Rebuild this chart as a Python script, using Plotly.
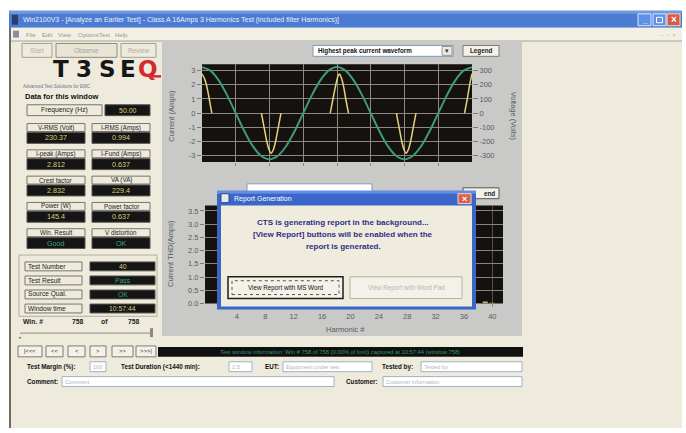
import plotly.graph_objects as go

W, H = 686, 433
FONT = "Liberation Sans"

# ---------------- data ----------------
time_ms = [0, 1.25, 2.5, 3.75, 5, 6.25, 7.5, 8.75, 10, 11.25, 12.5, 13.75, 15, 16.25, 17.5, 18.75,
           20, 21.25, 22.5, 23.75, 25, 26.25, 27.5, 28.75, 30, 31.25, 32.5, 33.75, 35, 36.25, 37.5, 38.75, 40]
voltage_v = [325, 300, 230, 124, 0, -124, -230, -300, -325, -300, -230, -124, 0, 124, 230, 300,
             325, 300, 230, 124, 0, -124, -230, -300, -325, -300, -230, -124, 0, 124, 230, 300, 325]

current_t = [0, 0.4, 0.8, 1.15, 1.45, None,
             8.8, 9.2, 9.6, 9.95, 10.25, 10.55, 10.9, 11.3, 11.7, None,
             19.0, 19.4, 19.8, 20.1, 20.35, 20.6, 20.95, 21.3, 21.7, None,
             28.8, 29.2, 29.6, 29.95, 30.25, 30.55, 30.9, 31.3, 31.7, None,
             38.9, 39.3, 39.65, 40]
current_a = [2.78, 2.4, 1.7, 0.8, 0, None,
             0, -1.0, -2.0, -2.6, -2.83, -2.6, -2.0, -1.0, 0, None,
             0, 1.0, 1.95, 2.55, 2.76, 2.55, 1.95, 1.0, 0, None,
             0, -1.0, -2.0, -2.6, -2.83, -2.6, -2.0, -1.0, 0, None,
             0, 1.0, 2.0, 2.78]

harmonic_n = [2, 3, 4, 5, 6, 7, 8, 9, 10, 11, 12, 13, 14, 15, 16, 17, 18, 19, 20, 21,
              22, 23, 24, 25, 26, 27, 28, 29, 30, 31, 32, 33, 34, 35, 36, 37, 38, 39, 40]
harmonic_a = [0.00, 0.62, 0.00, 0.55, 0.00, 0.45, 0.00, 0.34, 0.00, 0.24, 0.00, 0.15, 0.00, 0.10,
              0.00, 0.08, 0.00, 0.07, 0.00, 0.06, 0.00, 0.05, 0.00, 0.05, 0.00, 0.04, 0.00, 0.04,
              0.00, 0.04, 0.00, 0.03, 0.00, 0.03, 0.00, 0.03, 0.02, 0.07, 0.03]

current_ticks = [-3, -2, -1, 0, 1, 2, 3]
current_text = ["-3", "-2", "-1", "0", "1", "2", "3"]
voltage_ticks = [-300, -200, -100, 0, 100, 200, 300]
voltage_text = ["-300", "-200", "-100", "0", "100", "200", "300"]
time_grid = [5, 10, 15, 20, 25, 30, 35]
harm_ticks = [4, 8, 12, 16, 20, 24, 28, 32, 36, 40]
thd_ticks = [0, 0.5, 1.0, 1.5, 2.0, 2.5, 3.0, 3.5]
thd_text = ["0.0", "0.5", "1.0", "1.5", "2.0", "2.5", "3.0", "3.5"]

meas_left_labels = ["V-RMS (Volt)", "I-peak (Amps)", "Crest factor", "Power (W)", "Win. Result"]
meas_left_values = ["230.37", "2.812", "2.832", "145.4", "Good"]
meas_right_labels = ["I-RMS (Amps)", "I-Fund (Amps)", "VA (VA)", "Power factor", "V distortion"]
meas_right_values = ["0.994", "0.637", "229.4", "0.637", "OK"]
test_labels = ["Test Number", "Test Result", "Source Qual.", "Window time"]
test_values = ["40", "Pass", "OK", "10:57:44"]

# ---------------- colours ----------------
CREAM = "#EEEADC"
GREY = "#C9C9C7"
PLOTBG = "#15110E"
GRID = "#8E8980"
YEL = "#D8CF78"
GRN = "#3AA37B"
TICK = "#5C5C5C"

shapes = []
annotations = []


def X(x):
    return x / W


def Y(y):
    return 1 - y / H


def rect(x0, y0, x1, y1, fill, line=None, lw=1, layer="below", dash=None):
    ln = dict(color=line if line else "rgba(0,0,0,0)", width=lw if line else 0)
    if dash:
        ln["dash"] = dash
    shapes.append(dict(type="rect", xref="paper", yref="paper", x0=X(x0), x1=X(x1),
                       y0=Y(y1), y1=Y(y0), fillcolor=fill, line=ln, layer=layer))


def line(x0, y0, x1, y1, color, lw=1, layer="below"):
    shapes.append(dict(type="line", xref="paper", yref="paper", x0=X(x0), x1=X(x1),
                       y0=Y(y0), y1=Y(y1), line=dict(color=color, width=lw), layer=layer))


def txt(x, y, s, size=7, color="#222", anchor="center", bold=False, angle=0, family=FONT):
    if bold:
        s = "<b>" + s + "</b>"
    annotations.append(dict(xref="paper", yref="paper", x=X(x), y=Y(y), text=s, showarrow=False,
                            xanchor=anchor, yanchor="middle", textangle=angle, borderpad=0,
                            font=dict(size=size, color=color, family=family)))


def button(x0, y0, x1, y1, label, size=6.5, color="#222", bold=False, layer="below"):
    rect(x0, y0, x1, y1, "#F3F1E8", line="#7E7B72", lw=1, layer=layer)
    txt((x0 + x1) / 2, (y0 + y1) / 2, label, size=size, color=color, bold=bold)


# ---------------- window chrome ----------------
rect(9, 11, 682, 433, CREAM)
rect(9, 11, 11, 433, "#6F6C66")
rect(9, 11, 682, 28, "#4B7CD2")
rect(9, 11, 682, 14, "#6E9AE2")
rect(12, 15, 18, 25, "#2B3E6E")
txt(22, 20, "Win2100V3 - [Analyze an Earlier Test] - Class A 16Amps 3 Harmonics Test (included filter Harmonics)]",
    size=7, color="#E8EFFB", anchor="left")
rect(638, 14, 651, 26, "#5F8FE6", line="#DDE7F7")
txt(644.5, 21, "_", size=8, color="white", bold=True)
rect(653, 14, 666, 26, "#5F8FE6", line="#DDE7F7")
rect(656.5, 17.5, 662.5, 23, "rgba(0,0,0,0)", line="white", lw=1)
rect(667, 14, 680, 26, "#D65A44", line="#F3D9D0")
txt(673.5, 20, "×", size=10, color="white", bold=True)

# menu bar
rect(11, 28, 682, 41, "#F2EFE4")
line(11, 41.5, 682, 41.5, "#A9A596")
rect(13, 31, 19, 38, "#8A8F9C")
for mx, mt in zip([25, 41, 57, 77, 98, 114], ["File", "Edit", "View", "Options", "Test", "Help"]):
    txt(mx, 35, mt, size=6, color="#9A978F", anchor="left")
txt(668, 35, "–  ▫  ×", size=6, color="#BDBAB0")

# tabs
rect(22, 44, 52, 58, CREAM, line="#A4A196")
txt(37, 51, "Start", size=6.5, color="#B0ADA4")
rect(56, 44, 117, 58, "#E9E5D6", line="#8F8C82")
txt(86.5, 51, "Observe", size=6.5, color="#A5A298")
rect(121, 44, 156, 58, CREAM, line="#A4A196")
txt(138.5, 51, "Review", size=6.5, color="#B0ADA4")

# grey graph panel
rect(162, 42, 522, 340, GREY)

# top chart controls
rect(313, 46, 453, 57, "white", line="#7F9DB9")
rect(442, 47, 452, 56, "#ECEAE0", line="#9A988E")
txt(447, 51.5, "▾", size=7, color="#333")
txt(317, 51.5, "Highest peak current waveform", size=6.3, color="#111", anchor="left", bold=True)
button(463, 46, 499, 57, "Legend", size=6.3, bold=True)

# plot backgrounds
rect(202, 65, 472, 164, PLOTBG)
rect(205, 208, 503, 307, PLOTBG)

# axis titles
txt(172, 117, "Current (Amps)", size=7.5, color=TICK, angle=-90)
txt(513, 117, "Voltage (Volts)", size=7.5, color=TICK, angle=90)
txt(170, 257, "Current THD(Amps)", size=7.5, color=TICK, angle=-90)
txt(345, 333, "Harmonic #", size=7.5, color=TICK)

# ---------------- left panel ----------------
logo_x = [61, 84, 107, 128, 148]
for lx, ch in zip(logo_x, ["T", "3", "S", "E", "Q"]):
    txt(lx, 69.5, ch, size=23, color="#D42A2E" if ch == "Q" else "#161616", bold=True, family="DejaVu Sans")
rect(152, 76, 161, 78.5, "#D42A2E")
txt(22, 88, "Advanced Test Solutions for EMC", size=4.5, color="#6A7090", anchor="left")
txt(24, 97.5, "Data for this window", size=7.5, color="#111", anchor="left", bold=True)

rect(27, 106, 102, 117, CREAM, line="#77756C")
txt(64.5, 111.5, "Frequency (Hz)", size=6.8, color="#222")
rect(105, 106, 150, 117, "#151515", line="#55534E")
txt(127.5, 111.5, "50.00", size=7, color=YEL)

for i in range(5):
    ly = 125 + 26.6 * i
    for (x0, x1, labs, vals) in [(27, 85, meas_left_labels, meas_left_values),
                                 (92, 150, meas_right_labels, meas_right_values)]:
        rect(x0, ly, x1, ly + 8, CREAM, line="#77756C")
        txt((x0 + x1) / 2, ly + 4, labs[i], size=6.3, color="#222")
        rect(x0, ly + 9, x1, ly + 20, "#151515", line="#55534E")
        v = vals[i]
        txt((x0 + x1) / 2, ly + 14.5, v, size=7.2, color=GRN if v in ("Good", "OK", "Pass") else YEL)

rect(19, 258, 157, 320, "rgba(0,0,0,0)", line="#B3B0A4")
for i in range(4):
    ty = 265 + 14.2 * i
    rect(25, ty, 82, ty + 9, CREAM, line="#77756C")
    txt(26.5, ty + 4.5, test_labels[i], size=6.6, color="#222", anchor="left")
    rect(90, ty, 155, ty + 9, "#151515", line="#55534E")
    v = test_values[i]
    txt(122.5, ty + 4.5, v, size=6.8, color=GRN if v in ("Good", "OK", "Pass") else YEL)

txt(22, 325, "Win. #", size=6.8, color="#222", anchor="left", bold=True)
txt(78, 325, "758", size=6.8, color="#222", bold=True)
txt(104, 325, "of", size=6.8, color="#222", bold=True)
txt(134, 325, "758", size=6.8, color="#222", bold=True)
line(20, 337, 152, 337, "#8E8B80", lw=1)
rect(150, 332, 153, 341, "#8A877D")
txt(20, 341, "▸", size=5, color="#777")

for (bx0, bx1, bl) in [(18, 42, "|&lt;&lt;&lt;"), (46, 63, "&lt;&lt;"), (68, 85, "&lt;"),
                       (90, 106, "&gt;"), (112, 133, "&gt;&gt;"), (136, 156, "&gt;&gt;&gt;|")]:
    button(bx0, 350, bx1, 361, bl, size=5.8)

# status bar
rect(158, 351, 523, 361, "#101010")
txt(340, 356, "Test window information: Win # 758 of 758 (0.00% of limit) captured at 10:57:44 (window 758)",
    size=5.8, color="#2F9A6C")

# bottom form
def field(x0, x1, y, s):
    rect(x0, y - 5, x1, y + 5, "white", line="#9FB2C6")
    txt(x0 + 2, y, s, size=5.6, color="#B5B5B5", anchor="left")

txt(26, 371, "Test Margin (%):", size=6.3, color="#111", anchor="left", bold=True)
field(90, 106, 371, "100")
txt(120, 371, "Test Duration (&lt;1440 min):", size=6.3, color="#111", anchor="left", bold=True)
field(229, 252, 371, "2.5")
txt(264, 371, "EUT:", size=6.3, color="#111", anchor="left", bold=True)
field(283, 372, 371, "Equipment under test")
txt(381, 371, "Tested by:", size=6.3, color="#111", anchor="left", bold=True)
field(421, 522, 371, "Tested by")
txt(26, 386, "Comment:", size=6.3, color="#111", anchor="left", bold=True)
field(62, 334, 386, "Comment")
txt(345, 386, "Customer:", size=6.3, color="#111", anchor="left", bold=True)
field(383, 522, 386, "Customer information")

# bottom chart controls (partly hidden by dialog)
rect(247, 186, 372, 199, "white", line="#7F9DB9", layer="above")
rect(463, 190, 499, 201, "#F3F1E8", line="#555", layer="above")
txt(496, 195.5, "end", size=6.3, color="#222", anchor="right", bold=True)

# ---------------- dialog ----------------
rect(217, 193, 476, 313, "#3A66C9", layer="above")
rect(217, 193, 476, 196, "#628DE2", layer="above")
rect(221, 208, 472, 310, "#EFEBDD", layer="above")
rect(221, 196, 229, 205, "#E9E9E9", line="#2A4A8A", layer="above")
txt(233, 201, "Report Generation", size=7, color="white", anchor="left")
rect(458, 196, 471, 206, "#D8614A", line="#F4D8CF", layer="above")
txt(464.5, 201, "×", size=9, color="white", bold=True)
txt(343, 225, "CTS is generating report in the background...", size=8, color="#2E2F86", bold=True)
txt(343, 237, "[View Report] buttons will be enabled when the", size=8, color="#2E2F86", bold=True)
txt(343, 249, "report is generated.", size=8, color="#2E2F86", bold=True)
rect(228, 280, 343, 302, "#F3F1E8", line="#1E1E1E", lw=1.5, layer="above")
rect(232, 284, 339, 298, "rgba(0,0,0,0)", line="#555", lw=1, dash="dot", layer="above")
txt(285.5, 291, "View Report with MS Word", size=6.3, color="#111")
rect(350, 280, 462, 302, "#F3F1E8", line="#B5B1A5", layer="above")
txt(406, 291, "View Report with Word Pad", size=6.3, color="#BAB6AA")

# ---------------- traces ----------------
fig = go.Figure()
fig.add_trace(go.Scatter(x=time_ms, y=voltage_v, xaxis="x", yaxis="y2", mode="lines",
                         line=dict(color="#3E9A78", width=2, shape="spline"), hoverinfo="skip"))
fig.add_trace(go.Scatter(x=current_t, y=current_a, xaxis="x", yaxis="y", mode="lines",
                         line=dict(color="#E6D27C", width=1.5, shape="spline", smoothing=0.6),
                         connectgaps=False, hoverinfo="skip"))
fig.add_trace(go.Bar(x=harmonic_n, y=harmonic_a, xaxis="x3", yaxis="y3", width=0.7,
                     marker=dict(color="#CDB95E", line=dict(width=0)), hoverinfo="skip"))

tickfont = dict(size=7.5, color=TICK, family=FONT)
fig.update_layout(
    width=W, height=H, autosize=False,
    margin=dict(l=0, r=0, t=0, b=0, pad=0),
    paper_bgcolor="white", plot_bgcolor=PLOTBG,
    showlegend=False, bargap=0.3,
    shapes=shapes, annotations=annotations,
    xaxis=dict(domain=[X(202), X(472)], range=[0, 40], tickvals=time_grid, showticklabels=False,
               showgrid=True, gridcolor=GRID, gridwidth=1, zeroline=False, showline=False,
               ticks="outside", ticklen=3, tickcolor="#8A8A8A", anchor="y", fixedrange=True),
    yaxis=dict(domain=[Y(164), Y(65)], range=[-3.45, 3.45], tickvals=current_ticks,
               ticktext=current_text,
               showgrid=True, gridcolor=GRID, gridwidth=1, zeroline=False, showline=False,
               ticks="outside", ticklen=4, tickcolor="#7A7A7A", tickfont=tickfont, anchor="x",
               fixedrange=True),
    yaxis2=dict(overlaying="y", side="right", anchor="x", range=[-345, 345], tickvals=voltage_ticks,
                ticktext=voltage_text,
                showgrid=False, zeroline=False, showline=False, ticks="outside", ticklen=5,
                tickcolor="#7A7A7A", tickfont=tickfont, fixedrange=True),
    xaxis3=dict(domain=[X(205), X(503)], range=[-0.5, 41.5], tickvals=harm_ticks,
                showgrid=True, gridcolor="#55524C", gridwidth=1, zeroline=False, showline=False,
                ticks="outside", ticklen=3, tickcolor="#8A8A8A", tickfont=tickfont, anchor="y3",
                ticklabelstandoff=3, fixedrange=True),
    yaxis3=dict(domain=[Y(307), Y(208)], range=[0, 3.7], tickvals=thd_ticks, ticktext=thd_text,
                showgrid=True, gridcolor="#8A857C", gridwidth=1, zeroline=False, showline=False,
                ticks="outside", ticklen=4, tickcolor="#7A7A7A", tickfont=tickfont, anchor="x3",
                fixedrange=True),
)

fig.write_html("out.html", config={"displayModeBar": False, "staticPlot": True},
               post_script="document.body.style.margin='0';document.body.style.overflow='hidden';")
